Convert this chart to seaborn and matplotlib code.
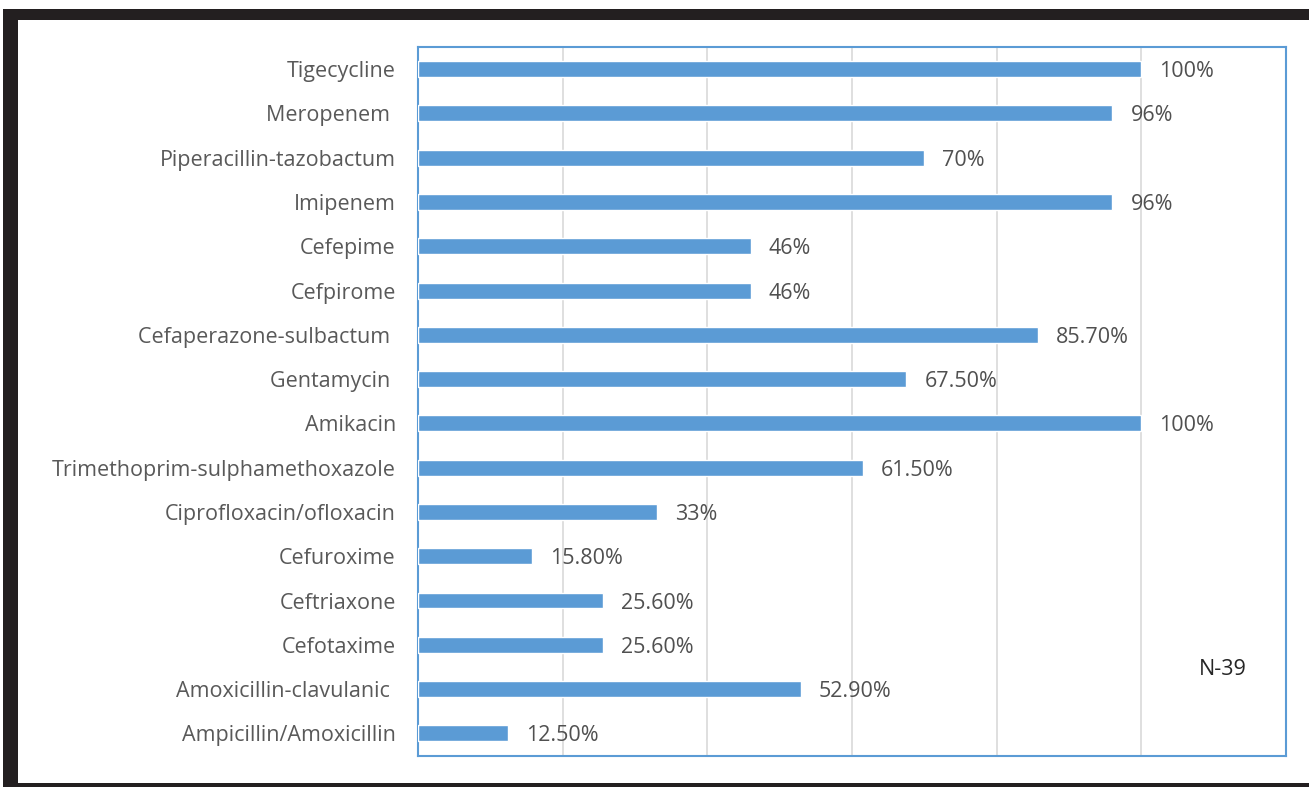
import pandas as pd
import matplotlib.pyplot as plt
import seaborn as sns
from matplotlib.patches import Rectangle

# data
drugs = ["Tigecycline", "Meropenem ", "Piperacillin-tazobactum", "Imipenem",
         "Cefepime", "Cefpirome", "Cefaperazone-sulbactum ", "Gentamycin ",
         "Amikacin", "Trimethoprim-sulphamethoxazole", "Ciprofloxacin/ofloxacin",
         "Cefuroxime", "Ceftriaxone", "Cefotaxime", "Amoxicillin-clavulanic ",
         "Ampicillin/Amoxicillin"]
sensitivity = [100, 96, 70, 96, 46, 46, 85.7, 67.5, 100, 61.5, 33, 15.8,
               25.6, 25.6, 52.9, 12.5]
value_labels = ["100%", "96%", "70%", "96%", "46%", "46%", "85.70%", "67.50%",
                "100%", "61.50%", "33%", "15.80%", "25.60%", "25.60%",
                "52.90%", "12.50%"]
note = "N-39"

df = pd.DataFrame({"drug": drugs, "pct": sensitivity})

sns.set_style("white")
plt.rcParams['font.family'] = ['Open Sans', 'DejaVu Sans']

fig = plt.figure(figsize=(13.09, 7.87), dpi=100)

# page frame (black border of the scanned figure)
fig.patches.append(Rectangle((3/1309, 0), 1, 1 - 9/787, transform=fig.transFigure,
                             facecolor="#231f20", edgecolor="none", zorder=-2))
fig.patches.append(Rectangle((18/1309, 4/787), 1, 1 - 24/787, transform=fig.transFigure,
                             facecolor="white", edgecolor="none", zorder=-1))

ax = fig.add_axes([418/1309, 1 - 755.5/787, (1286 - 418)/1309, (755.5 - 47)/787])
sns.barplot(data=df, x="pct", y="drug", orient="h", color="#5b9bd5",
            saturation=1, width=0.36, ax=ax, zorder=3)

ax.set_xlim(0, 120)
ax.set_xticks(range(0, 121, 20))
ax.set_xticklabels([])
ax.tick_params(axis="x", length=0)
ax.tick_params(axis="y", length=0, pad=16, labelsize=15.5, labelcolor="#595959")
ax.grid(axis="x", color="#d9d9d9", linewidth=1.2, zorder=0)
ax.set_xlabel("")
ax.set_ylabel("")
for s in ax.spines.values():
    s.set_color("#5b9bd5")
    s.set_linewidth(1.5)

for i, (v, lab) in enumerate(zip(sensitivity, value_labels)):
    ax.text(v + 2.5, i, lab, va="center_baseline", ha="left", fontsize=15.5,
            color="#505050", zorder=4)

ax.text(111.2, 13.5, note, ha="center", va="center_baseline", fontsize=15.5,
        color="#262626")

fig.savefig("out.png", dpi=100)
